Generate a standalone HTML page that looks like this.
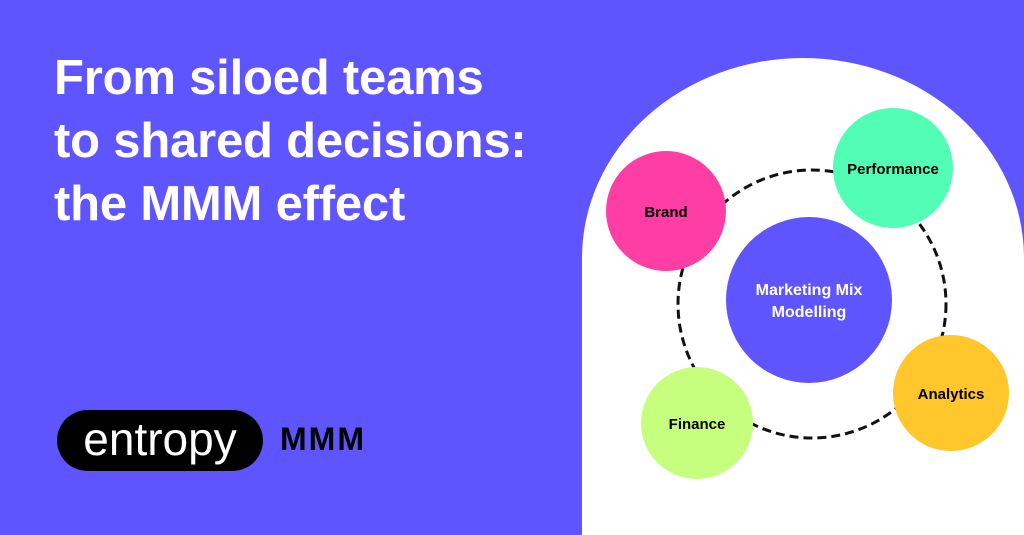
<!DOCTYPE html>
<html><head><meta charset="utf-8"><style>
html,body{margin:0;padding:0}
body{width:1024px;height:535px;background:#5F55FF;position:relative;overflow:hidden;font-family:"Liberation Sans",sans-serif}
.t{position:absolute;left:54px;color:#fff;font-weight:bold;font-size:49px;line-height:63px;top:47px;letter-spacing:-0.2px;white-space:nowrap}
.pill{position:absolute;left:57px;top:410px;width:206px;height:61px;border-radius:31px;background:#000;color:#fff;font-size:46px;line-height:58px;text-align:center;letter-spacing:0px}
.mmm{position:absolute;left:280px;top:421px;font-size:32px;font-weight:bold;color:#000;letter-spacing:2px}
svg{position:absolute;left:0;top:0}
</style></head><body>
<div class="t">From siloed teams<br>to shared decisions:<br>the MMM effect</div>
<div class="pill">entropy</div>
<div class="mmm">MMM</div>
<svg width="1024" height="535" viewBox="0 0 1024 535">
<path d="M582 535 L582 258 A221 200 0 0 1 1024 258 L1024 535 Z" fill="#fff"/>
<circle cx="812" cy="304" r="134" fill="none" stroke="#111" stroke-width="3" stroke-dasharray="9 5"/>
<circle cx="809" cy="300" r="83" fill="#5F55FF"/>
<circle cx="666" cy="211" r="60" fill="#FF3EA5"/>
<circle cx="893" cy="168" r="60" fill="#52FDB5"/>
<circle cx="951" cy="393" r="58" fill="#FFC72C"/>
<circle cx="697" cy="423" r="56" fill="#C6FF7D"/>
<g font-family="Liberation Sans,sans-serif" font-weight="bold" font-size="15" text-anchor="middle" fill="#000">
<text x="666" y="217">Brand</text>
<text x="893" y="174">Performance</text>
<text x="951" y="399">Analytics</text>
<text x="697" y="429">Finance</text>
<text x="809" y="295" fill="#fff" font-size="16">Marketing Mix</text>
<text x="809" y="317" fill="#fff" font-size="16">Modelling</text>
</g>
</svg>
</body></html>
